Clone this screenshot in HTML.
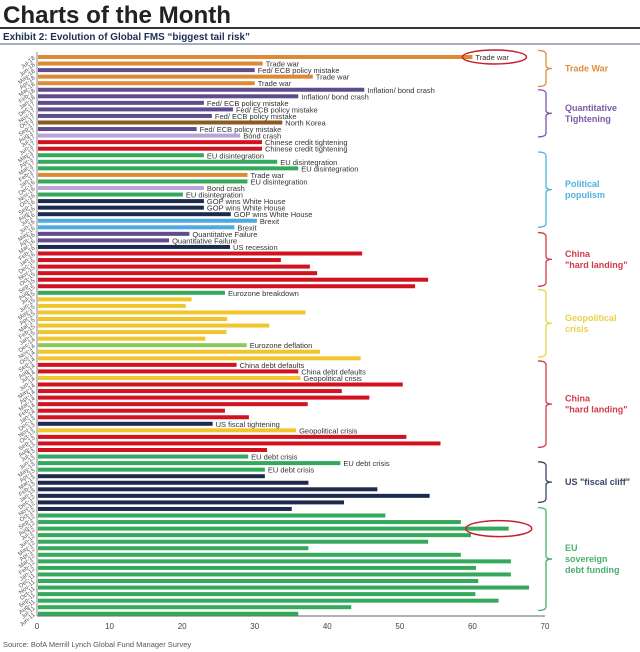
<!DOCTYPE html>
<html><head><meta charset="utf-8">
<style>
body{margin:0;background:#fff;width:640px;height:652px;overflow:hidden;font-family:"Liberation Sans",sans-serif}
svg{display:block}
</style></head>
<body>
<svg id="chart" width="640" height="652" viewBox="0 0 640 652" xmlns="http://www.w3.org/2000/svg">
<text x="3" y="23" font-size="24" font-weight="bold" fill="#222" textLength="228" lengthAdjust="spacingAndGlyphs">Charts of the Month</text>
<line x1="0" y1="28" x2="640" y2="28" stroke="#333" stroke-width="2"/>
<text x="3" y="40" font-size="10.5" font-weight="bold" fill="#1f2d55" textLength="247" lengthAdjust="spacingAndGlyphs">Exhibit 2: Evolution of Global FMS “biggest tail risk”</text>
<line x1="0" y1="44" x2="640" y2="44" stroke="#8a93a8" stroke-width="1.5"/>
<g id="plot"></g>
<text x="3" y="647" font-size="7.5" fill="#555">Source: BofA Merrill Lynch Global Fund Manager Survey</text>
</svg>
<script>
const values=[60,31.1,30,38,30,45.1,36,23,27,24.1,33.8,22,28,31,31,23,33.1,36,29,29,23,20.1,23,23,26.7,30.3,27.2,21,18.2,26.6,44.8,33.6,37.6,38.6,53.9,52.1,25.9,21.3,20.5,37,26.2,32,26.1,23.2,28.9,39,44.6,27.5,36,36.3,50.4,42,45.8,37.3,25.9,29.2,24.2,35.7,50.9,55.6,31.7,29.1,41.8,31.4,31.4,37.4,46.9,54.1,42.3,35.1,48,58.4,65,59.8,53.9,37.4,58.4,65.3,60.5,65.3,60.8,67.8,60.4,63.6,43.3,36];
const colorKeys=["o","o","p","o","o","p","p","p","p","p","b","p","l","r","r","g","g","g","o","g","l","g","n","n","n","c","c","p","p","n","r","r","r","r","r","r","g","y","y","y","y","y","y","y","lg","y","y","r","r","y","r","r","r","r","r","r","n","y","r","r","r","g","g","g","n","n","n","n","n","n","g","g","g","g","g","g","g","g","g","g","g","g","g","g","g","g"];
const barLabels=["Trade war","Trade war","Fed/ ECB policy mistake","Trade war","Trade war","Inflation/ bond crash","Inflation/ bond crash","Fed/ ECB policy mistake","Fed/ ECB policy mistake","Fed/ ECB policy mistake","North Korea","Fed/ ECB policy mistake","Bond crash","Chinese credit tightening","Chinese credit tightening","EU disintegration","EU disintegration","EU disintegration","Trade war","EU disintegration","Bond crash","EU disintegration","GOP wins White House","GOP wins White House","GOP wins White House","Brexit","Brexit","Quantitative Failure","Quantitative Failure","US recession","","","","","","","Eurozone breakdown","","","","","","","","Eurozone deflation","","","China debt defaults","China debt defaults","Geopolitical crisis","","","","","","","US fiscal tightening","Geopolitical crisis","","","","EU debt crisis","EU debt crisis","EU debt crisis","","","","","","","","","","","","","","","","","","","","","",""];
const xTicks=[0,10,20,30,40,50,60,70];
const groupNames=[["Trade War"],["Quantitative","Tightening"],["Political","populism"],["China","\"hard landing\""],["Geopolitical","crisis"],["China","\"hard landing\""],["US \"fiscal cliff\""],["EU","sovereign","debt funding"]];
const groupStart=[-1,5,14.5,26.8,35.5,46.4,61.8,68.8];
const groupEnd=[4.5,12.2,26,35,45.8,59.6,68,84.5];
const palette={o:"#dc8a34",p:"#5f4c8c",l:"#b9a6d8",b:"#8b5a1f",r:"#d3121f",g:"#34a95c",n:"#1d2a4e",c:"#4da9e0",y:"#f1c62c",lg:"#8cc95c"};
const groupColors=["#d9913e","#7a5aa8","#4fb3dc","#d23a4a","#e8d24a","#d23a4a","#3a4466","#48b06e"];
const mon=["Jan","Feb","Mar","Apr","May","Jun","Jul","Aug","Sep","Oct","Nov","Dec"];
const categories=[];
for(let i=0;i<values.length;i++){const m=(6-i%12+1200)%12;const yr=18-Math.floor((i+5)/12);categories.push(mon[m]+"-"+String(yr).padStart(2,"0"));}

const NS="http://www.w3.org/2000/svg";
const plot=document.getElementById("plot");
const X0=37,X1=545,VMAX=70,Y0=57,STEP=6.55,BH=4;
const xs=v=>X0+(X1-X0)*v/VMAX;
const ys=i=>Y0+i*STEP;
function mk(t,a){const e=document.createElementNS(NS,t);for(const k in a)e.setAttribute(k,a[k]);plot.appendChild(e);return e;}

const ax=mk("line",{x1:X0,y1:52,x2:X0,y2:616,stroke:"#888","stroke-width":1});


const bx=mk("line",{x1:X0,y1:616,x2:X1,y2:616,stroke:"#666","stroke-width":1});



xTicks.forEach(t=>{
  const e=mk("text",{x:xs(t),y:629,"font-size":8,fill:"#444","text-anchor":"middle"});
  e.textContent=t;
  
  
});

values.forEach((v,i)=>{
  const y=ys(i);
  const r=mk("rect",{x:X0+1,y:y-BH/2,width:xs(v)-X0-1,height:BH,fill:palette[colorKeys[i]]});
  
  
  const c=mk("text",{x:34,y:y+2,"font-size":6,fill:"#555","text-anchor":"end",transform:`rotate(-40 34 ${y})`});
  c.textContent=categories[i];
  
  
  if(barLabels[i]){
    const l=mk("text",{x:xs(v)+3,y:y+3,"font-size":7.5,fill:"#333"});
    l.textContent=barLabels[i];
    
    
  }
});

const e1=mk("ellipse",{cx:xs(values[0])+22,cy:ys(0),rx:32,ry:7,fill:"none",stroke:"#c8202a","stroke-width":1.5});


const e2=mk("ellipse",{cx:xs(values[72])-10,cy:ys(72),rx:33,ry:8,fill:"none",stroke:"#c8202a","stroke-width":1.5});



groupNames.forEach((nm,g)=>{
  const ya=ys(groupStart[g]),yb=ys(groupEnd[g]),ym=(ya+yb)/2,col=groupColors[g];
  const p=mk("path",{d:`M538 ${ya} Q546 ${ya} 546 ${ya+4} L546 ${ym-3} Q546 ${ym} 552 ${ym} Q546 ${ym} 546 ${ym+3} L546 ${yb-4} Q546 ${yb} 538 ${yb}`,fill:"none",stroke:col,"stroke-width":1.3});
  
  
  const lh=11,ty=ym-(nm.length-1)*lh/2+3;
  nm.forEach((s,k)=>{
    const t=mk("text",{x:565,y:ty+k*lh,"font-size":9,"font-weight":"bold",fill:col});
    t.textContent=s;
    
    
  });
});
</script>
</body></html>
